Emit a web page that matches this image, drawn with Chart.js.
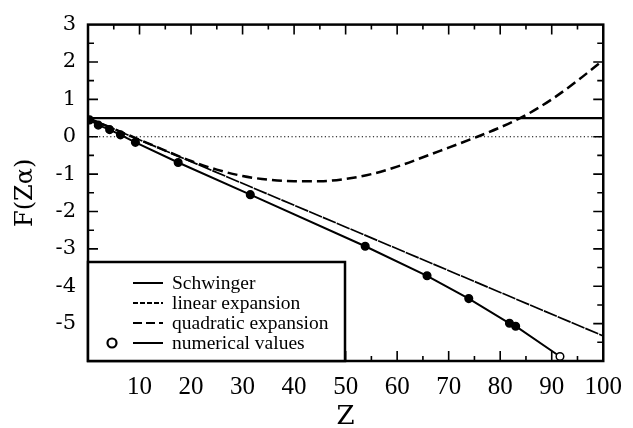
<!DOCTYPE html>
<html>
<head>
<meta charset="utf-8">
<script src="https://cdn.jsdelivr.net/npm/chart.js@4"></script>
<style>
  html, body { margin: 0; padding: 0; background: #fff; }
  canvas { display: block; }
</style>
</head>
<body>
<canvas id="chart" width="633" height="428"></canvas>
<script>
// values
const zSchwinger = [0, 100];
const fSchwinger = [0.5, 0.5];

const zLinear = [0, 100];
const fLinear = [0.5, -5.33];

const zQuadratic = [0, 5, 10, 15, 20, 25, 30, 35, 40, 45, 50, 55, 60, 65, 70, 75, 80, 85, 90, 95, 100];
const fQuadratic = [0.5, 0.21, -0.08, -0.37, -0.65, -0.88, -1.05, -1.15, -1.19, -1.19, -1.13, -1.0, -0.8, -0.55, -0.29, -0.03, 0.25, 0.58, 1.0, 1.5, 2.05];

const zNumerical = [0.3, 2, 4.2, 6.3, 9.2, 17.5, 31.5, 53.8, 65.8, 73.9, 81.8, 83, 91.6];
const fNumerical = [0.45, 0.31, 0.19, 0.05, -0.15, -0.69, -1.55, -2.93, -3.72, -4.33, -4.99, -5.07, -5.88];

const zZero = [0, 100];
const fZero = [0, 0];

const xTickLabels = [10, 20, 30, 40, 50, 60, 70, 80, 90, 100];
const yTickLabels = [-5, -4, -3, -2, -1, 0, 1, 2, 3];

const pts = (xs, ys) => xs.map((x, i) => ({ x, y: ys[i] }));

// frame with inward ticks on all four sides
const frameTicks = {
  id: 'frameTicks',
  afterDatasetsDraw(chart) {
    const { ctx, chartArea: a, scales: { x, y } } = chart;
    ctx.save();
    ctx.strokeStyle = '#000';
    ctx.lineWidth = 1.6;
    ctx.beginPath();
    for (let v = 5; v < 100; v += 5) {
      const px = x.getPixelForValue(v);
      const len = v % 10 === 0 ? 10 : 5;
      ctx.moveTo(px, a.bottom); ctx.lineTo(px, a.bottom - len);
      ctx.moveTo(px, a.top); ctx.lineTo(px, a.top + len);
    }
    for (let v = -5.5; v < 3; v += 0.5) {
      const py = y.getPixelForValue(v);
      const len = Number.isInteger(v) ? 10 : 6;
      ctx.moveTo(a.left, py); ctx.lineTo(a.left + len, py);
      ctx.moveTo(a.right, py); ctx.lineTo(a.right - len, py);
    }
    ctx.stroke();
    ctx.lineWidth = 2.5;
    ctx.strokeRect(a.left, a.top, a.right - a.left, a.bottom - a.top);
    ctx.restore();
  }
};

// boxed legend in the lower left corner
const boxLegend = {
  id: 'boxLegend',
  afterDraw(chart) {
    const { ctx, chartArea: a } = chart;
    const items = chart.data.datasets.filter(d => d.label);
    const boxW = 257, boxH = 99;
    ctx.save();
    ctx.fillStyle = '#fff';
    ctx.fillRect(a.left, a.bottom - boxH, boxW, boxH);
    ctx.strokeStyle = '#000';
    ctx.lineWidth = 2.5;
    ctx.strokeRect(a.left, a.bottom - boxH, boxW, boxH);
    ctx.font = '19.5px "Liberation Serif"';
    ctx.textBaseline = 'middle';
    ctx.fillStyle = '#000';
    items.forEach((d, i) => {
      const yy = a.bottom - 78 + i * 20;
      ctx.beginPath();
      ctx.lineWidth = 2;
      ctx.setLineDash(d.legendDash || []);
      ctx.moveTo(a.left + 45, yy);
      ctx.lineTo(a.left + 75, yy);
      ctx.stroke();
      ctx.setLineDash([]);
      if (d.pointRadius > 0) {
        ctx.beginPath();
        ctx.lineWidth = 2.2;
        ctx.arc(a.left + 24, yy, 4.5, 0, Math.PI * 2);
        ctx.stroke();
      }
      ctx.fillText(d.label, a.left + 84, yy + 1);
    });
    ctx.restore();
  }
};

new Chart(document.getElementById('chart'), {
  type: 'scatter',
  plugins: [frameTicks, boxLegend],
  data: {
    datasets: [
      {
        label: 'Schwinger',
        data: pts(zSchwinger, fSchwinger),
        showLine: true, borderColor: '#000', borderWidth: 2.2,
        pointRadius: 0
      },
      {
        label: 'linear expansion',
        data: pts(zLinear, fLinear),
        showLine: true, borderColor: '#000', borderWidth: 1.7,
        borderDash: [14, 1], legendDash: [5, 2],
        pointRadius: 0
      },
      {
        label: 'quadratic expansion',
        data: pts(zQuadratic, fQuadratic),
        showLine: true, borderColor: '#000', borderWidth: 2.5,
        borderDash: [10, 5], legendDash: [9, 4],
        cubicInterpolationMode: 'monotone',
        pointRadius: 0
      },
      {
        label: 'numerical values',
        data: pts(zNumerical, fNumerical),
        showLine: true, borderColor: '#000', borderWidth: 2,
        pointRadius: 3.8, pointBorderWidth: 1.5, pointBorderColor: '#000',
        pointBackgroundColor: c => c.dataIndex === zNumerical.length - 1 ? '#fff' : '#000'
      },
      {
        data: pts(zZero, fZero),
        showLine: true, borderColor: '#000', borderWidth: 1.2,
        borderDash: [1.2, 2.5],
        pointRadius: 0
      }
    ]
  },
  options: {
    responsive: false,
    animation: false,
    events: [],
    layout: { padding: { top: 23, right: 26, bottom: 0, left: 0 } },
    plugins: {
      legend: { display: false },
      tooltip: { enabled: false }
    },
    scales: {
      x: {
        type: 'linear',
        min: 0, max: 100,
        grid: { display: false, drawTicks: false },
        border: { display: false },
        afterBuildTicks: s => { s.ticks = xTickLabels.map(v => ({ value: v })); },
        afterFit: s => { s.height = 67; },
        ticks: {
          color: '#000',
          padding: 11,
          font: { family: '"Liberation Serif"', size: 25 }
        },
        title: {
          display: true, text: 'Z', color: '#000',
          font: { family: '"DejaVu Serif"', size: 26, lineHeight: 0.8 },
          padding: { top: 0, bottom: 0.5 }
        }
      },
      y: {
        min: -6, max: 3,
        grid: { display: false, drawTicks: false },
        border: { display: false },
        afterBuildTicks: s => { s.ticks = yTickLabels.map(v => ({ value: v })); },
        afterFit: s => { s.width = 88; },
        ticks: {
          color: '#000',
          padding: 12,
          font: { family: '"DejaVu Serif"', size: 21 }
        },
        title: {
          display: true, text: 'F(Zα)', color: '#000',
          font: { family: '"DejaVu Serif"', size: 24, lineHeight: 1 },
          padding: { top: 14, bottom: 0 }
        }
      }
    }
  }
});
</script>
</body>
</html>
